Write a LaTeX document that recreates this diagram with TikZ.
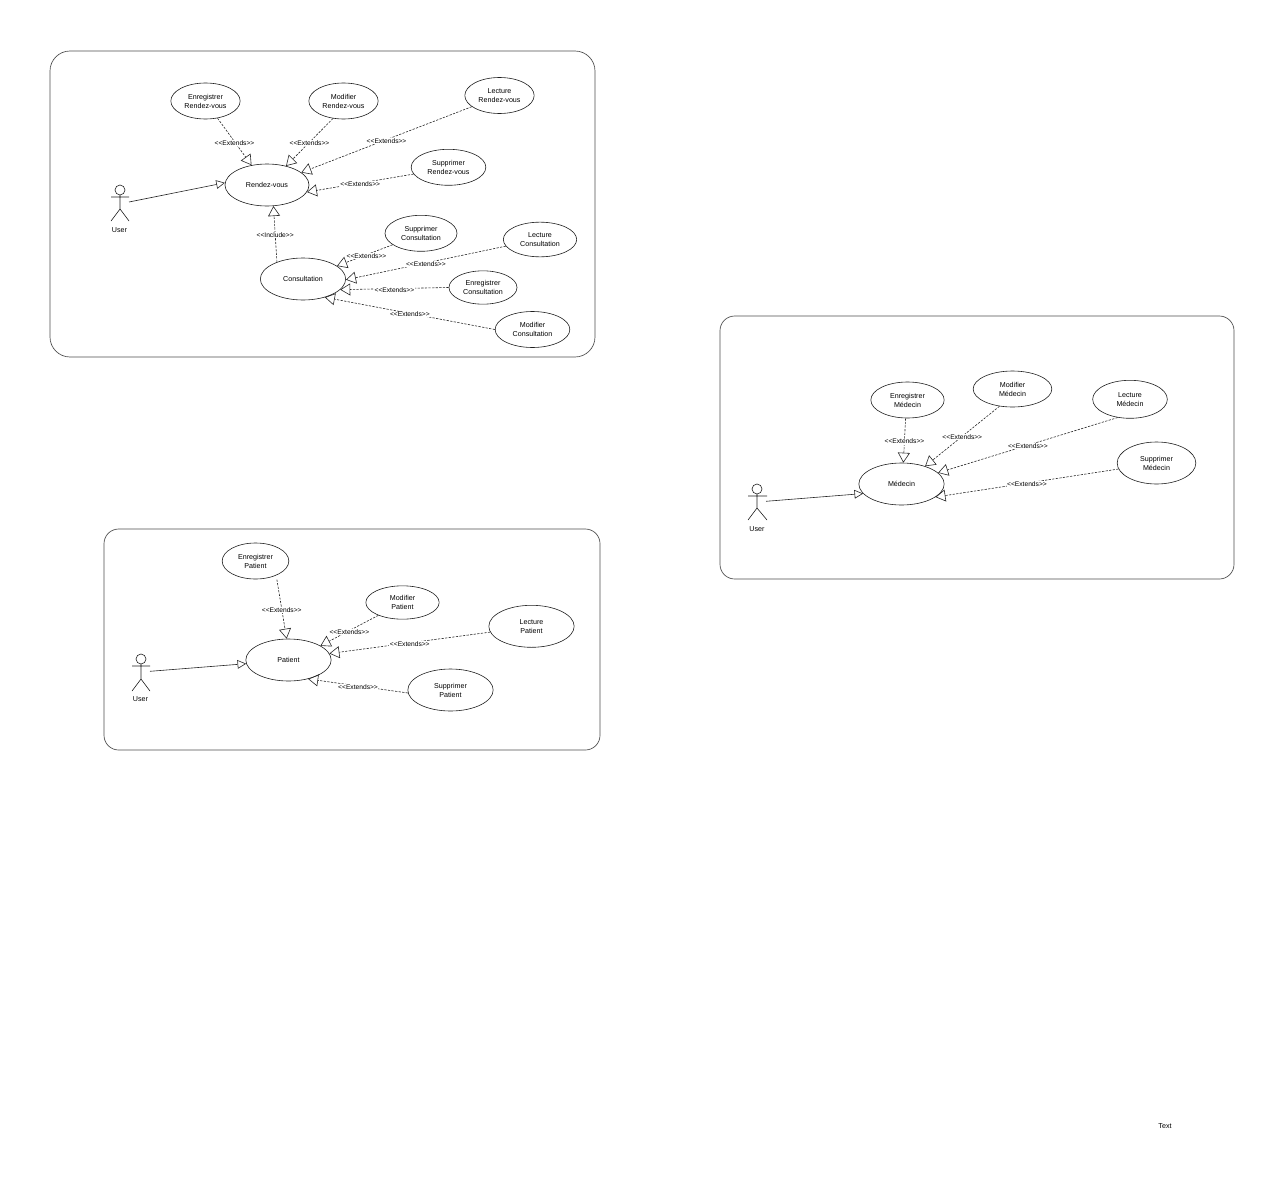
\documentclass[tikz,border=0pt]{standalone}
\usepackage{fontspec}
\setmainfont{Liberation Sans}
\usetikzlibrary{arrows.meta,shapes.geometric}
\newcommand{\ext}{<\kern0pt<Extends>\kern0pt>}
\newcommand{\incl}{<\kern0pt<Include>\kern0pt>}
\tikzset{
    usecase/.style={draw=black!88,ellipse,inner sep=0pt,align=center,line width=0.45pt,font=\fontsize{5.35}{6.75}\selectfont},
    panel/.style={draw=black!70,line width=0.5pt},
    actor/.style={draw=black!88,line width=0.45pt},
    assoc/.style={draw=black!85,line width=0.45pt,-{Triangle[open,length=6.5pt,width=6.5pt]}},
    dep/.style={draw=black!85,line width=0.45pt,dash pattern=on 1.7pt off 1pt,-{Triangle[open,length=7.5pt,width=9pt]}},
    lbl/.style={fill=white,inner sep=0.4pt,yshift=-0.8pt,font=\fontsize{5}{6}\selectfont},
    txt/.style={inner sep=0pt,font=\fontsize{5.35}{6.75}\selectfont}
}
\begin{document}
\begin{tikzpicture}[x=0.75pt,y=-0.75pt]
    \useasboundingbox (0,0) rectangle (1284,1181);
    % frames
    \draw[panel,rounded corners=15pt] (50,51) rectangle (595,357);
    \draw[panel,rounded corners=11pt] (104,529) rectangle (600,750);
    \draw[panel,rounded corners=11pt] (720,316) rectangle (1234,579);
    % actors
    \draw[actor] (120,190) circle (5);
    \draw[actor] (111,197)--(129,197) (120,195)--(120,209) (111,221)--(120,209)--(129,221);
    \draw[actor] (141,659) circle (5);
    \draw[actor] (132,666)--(150,666) (141,664)--(141,679) (132,691)--(141,679)--(150,691);
    \draw[actor] (757,489) circle (5);
    \draw[actor] (748,496)--(767,496) (757,494)--(757,508) (748,520)--(757,508)--(767,520);
    \node[txt] (userA) at (119.5,230.3) {User};
    \node[txt] (userB) at (140.5,698.8) {User};
    \node[txt] (userC) at (757,528.8) {User};
    \coordinate (handA) at (129,202);
    \coordinate (handB) at (150,671.3);
    \coordinate (handC) at (766,501.3);
    % rendez-vous
    \node[usecase,minimum width=63pt,minimum height=31.5pt] (rdv) at (267,185) {Rendez-vous};
    \node[usecase,minimum width=52pt,minimum height=27pt] (enrRdv) at (205.5,101) {Enregistrer\\Rendez-vous};
    \node[usecase,minimum width=52pt,minimum height=27pt] (modRdv) at (343.5,101) {Modifier\\Rendez-vous};
    \node[usecase,minimum width=52pt,minimum height=27pt] (lecRdv) at (499.5,95.5) {Lecture\\Rendez-vous};
    \node[usecase,minimum width=56pt,minimum height=27pt] (supRdv) at (448.5,167.3) {Supprimer\\Rendez-vous};
    \node[usecase,minimum width=64pt,minimum height=31.5pt] (cons) at (303,279) {Consultation};
    \node[usecase,minimum width=54pt,minimum height=27pt] (supCons) at (421,233.3) {Supprimer\\Consultation};
    \node[usecase,minimum width=55pt,minimum height=26pt] (lecCons) at (540,239.5) {Lecture\\Consultation};
    \node[usecase,minimum width=51pt,minimum height=25pt] (enrCons) at (483,287.5) {Enregistrer\\Consultation};
    \node[usecase,minimum width=56pt,minimum height=27pt] (modCons) at (532.5,329.5) {Modifier\\Consultation};
    \draw[assoc] (handA) -- (rdv.177);
    \draw[dep] (enrRdv.-55) -- node[lbl] {\ext} (rdv.128);
    \draw[dep] (modRdv.-121) -- node[lbl] {\ext} (rdv.45);
    \draw[dep] (lecRdv.-158) -- node[lbl] {\ext} (rdv.20);
    \draw[dep] (supRdv.-169) -- node[lbl] {\ext} (rdv.-10);
    \draw[dep] (cons.147) -- node[lbl] {\incl} (rdv.-73);
    \draw[dep] (supCons.-158) -- node[lbl,pos=.47] {\ext} (cons.21);
    \draw[dep] (lecCons.-169) -- node[lbl] {\ext} (cons.-1);
    \draw[dep] (enrCons.180) -- node[lbl] {\ext} (cons.-16);
    \draw[dep] (modCons.180) -- node[lbl] {\ext} (cons.-40);
    % patient
    \node[usecase,minimum width=64pt,minimum height=31.5pt] (pat) at (288.5,660) {Patient};
    \node[usecase,minimum width=50pt,minimum height=27pt] (enrPat) at (255.5,561) {Enregistrer\\Patient};
    \node[usecase,minimum width=55pt,minimum height=25pt] (modPat) at (402.5,602.5) {Modifier\\Patient};
    \node[usecase,minimum width=64pt,minimum height=31.5pt] (lecPat) at (531.5,626.3) {Lecture\\Patient};
    \node[usecase,minimum width=64pt,minimum height=31.5pt] (supPat) at (450.5,690) {Supprimer\\Patient};
    \draw[assoc] (handB) -- (pat.-175);
    \draw[dep] ([shift={(7.4,1.9)}]enrPat.-50) -- node[lbl] {\ext} (pat.95);
    \draw[dep] (modPat.-152) -- node[lbl] {\ext} (pat.24);
    \draw[dep] (lecPat.-172) -- node[lbl] {\ext} (pat.9);
    \draw[dep] (supPat.-176) -- node[lbl] {\ext} (pat.-44);
    % medecin
    \node[usecase,minimum width=64pt,minimum height=31.5pt] (med) at (901.5,484) {Médecin};
    \node[usecase,minimum width=55pt,minimum height=27pt] (enrMed) at (907.5,400) {Enregistrer\\Médecin};
    \node[usecase,minimum width=59pt,minimum height=27pt] (modMed) at (1012.5,389) {Modifier\\Médecin};
    \node[usecase,minimum width=56pt,minimum height=28.5pt] (lecMed) at (1130,399.3) {Lecture\\Médecin};
    \node[usecase,minimum width=59pt,minimum height=31.5pt] (supMed) at (1156.5,463) {Supprimer\\Médecin};
    \draw[assoc] (handC) -- (med.-166);
    \draw[dep] (enrMed.-96) -- node[lbl] {\ext} (med.85);
    \draw[dep] (modMed.-127) -- node[lbl] {\ext} (med.37);
    \draw[dep] (lecMed.-124) -- node[lbl] {\ext} (med.17);
    \draw[dep] (supMed.-171) -- node[lbl] {\ext} (med.-21);
    \node[txt] (extra) at (1165,1126) {Text};
\end{tikzpicture}
\end{document}
